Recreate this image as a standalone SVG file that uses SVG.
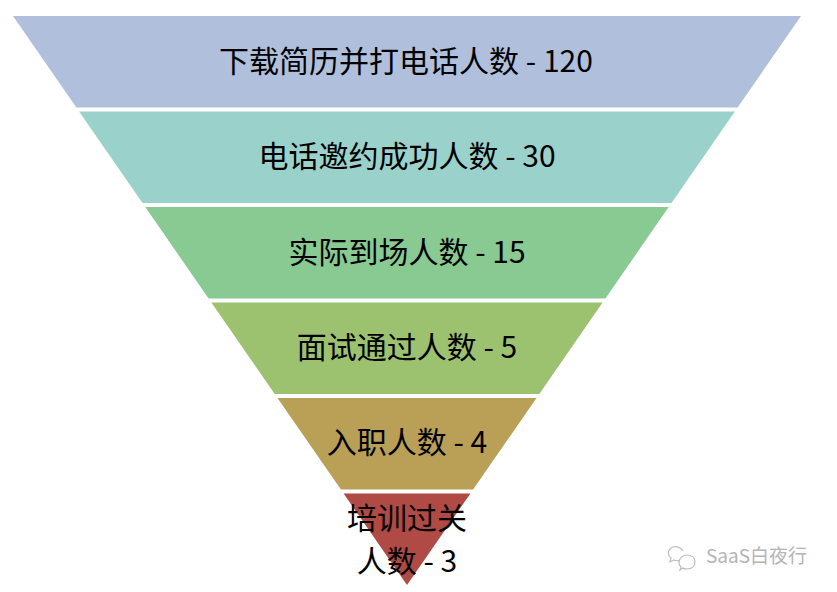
<svg xmlns="http://www.w3.org/2000/svg" width="837" height="592" viewBox="0 0 837 592">
<style>
.lbl{font-family:"Noto Sans CJK SC","Microsoft YaHei",sans-serif;font-size:30px;fill:#000;text-anchor:middle}
.wm{font-family:"Noto Sans CJK SC",sans-serif;font-size:19px;fill:#b4b4b4}
.ic{fill:none;stroke:#bdbdbd;stroke-width:1.2}
</style>
<rect width="837" height="592" fill="#ffffff"/>
<g id="stage1"><polygon points="13,16 801,16 737.6,107.5 76.4,107.5" fill="#B0C0DC"/><text class="lbl" x="406" y="72">下载简历并打电话人数 - 120</text></g>
<g id="stage2"><polygon points="79.1,111.5 734.9,111.5 671.5,203 142.5,203" fill="#9AD2CB"/><text class="lbl" x="407" y="167">电话邀约成功人数 - 30</text></g>
<g id="stage3"><polygon points="145.3,207 668.7,207 605.4,298.5 208.6,298.5" fill="#88CA92"/><text class="lbl" x="407" y="263">实际到场人数 - 15</text></g>
<g id="stage4"><polygon points="211.4,302.5 602.6,302.5 539.3,394 274.7,394" fill="#9CC26F"/><text class="lbl" x="407" y="358">面试通过人数 - 5</text></g>
<g id="stage5"><polygon points="277.5,398 536.5,398 473.1,489.5 340.9,489.5" fill="#B9A056"/><text class="lbl" x="407" y="453">入职人数 - 4</text></g>
<g id="stage6"><polygon points="343.6,493.5 470.4,493.5 407,585" fill="#AF4A45"/><text class="lbl" x="407" y="529">培训过关</text><text class="lbl" x="407" y="572">人数 - 3</text></g>
<g id="connectors"></g>
<g id="watermark">
<path class="ic" d="M683,551 c-2,-4 -8,-6 -12,-3 c-4,3 -3,8 0,10 l-1,4 l4,-2 c2,1 4,1 6,0"/>
<path class="ic" d="M679,563 c0,-5 4,-8 8,-8 c5,0 8,3 8,7 c0,4 -3,7 -8,7 c-1,0 -3,0 -4,-1 l-3,2 l1,-3 c-1,-1 -2,-2 -2,-4 z"/>
<text class="wm" x="706" y="563">SaaS白夜行</text>
</g>
</svg>
